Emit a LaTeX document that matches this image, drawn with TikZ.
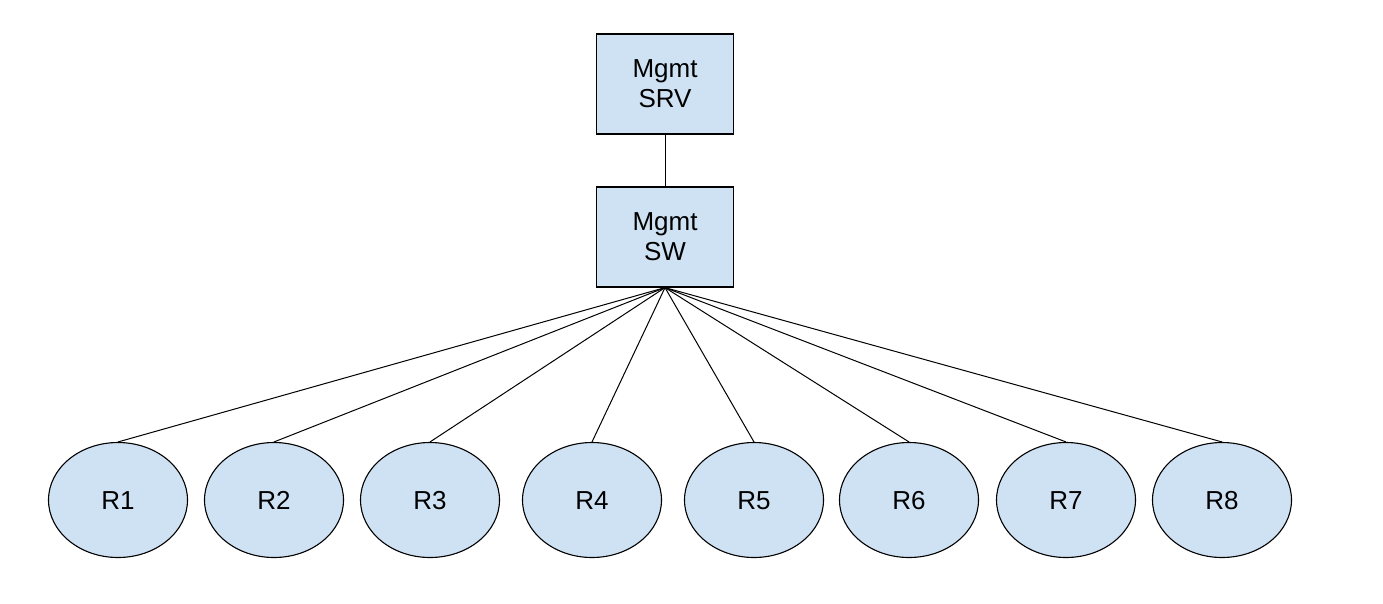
\documentclass[tikz,border=0pt]{standalone}
\usepackage{fontspec}
\setmainfont{Liberation Sans}
\usetikzlibrary{shapes.geometric}
\definecolor{nodefill}{HTML}{CFE2F3}
\begin{document}
\begin{tikzpicture}[x=1pt,y=-1pt,
  box/.style={draw=black, fill=nodefill, line width=1.2pt, minimum width=137pt, minimum height=100pt, inner sep=0pt, align=center, font=\fontsize{26}{30}\selectfont},
  rnode/.style={ellipse, draw=black, fill=nodefill, line width=1.1pt, minimum width=139pt, minimum height=115pt, inner sep=0pt, text height=18.7pt, text depth=0pt, font=\fontsize{26}{30}\selectfont},
  link/.style={draw=black, line width=1pt}]
\useasboundingbox (0,0) rectangle (1383,603);
\node[box] (srv) at (665,84) {Mgmt\\SRV};
\node[box] (sw) at (665,237) {Mgmt\\SW};
\draw[link] (srv.south) -- (sw.north);
\foreach \i/\x in {1/118,2/274,3/430,4/592,5/754,6/909,7/1066,8/1222}{
  \node[rnode] (r\i) at (\x,500) {R\i};
  \draw[link] (sw.south) -- (r\i.north);
}
\end{tikzpicture}
\end{document}
